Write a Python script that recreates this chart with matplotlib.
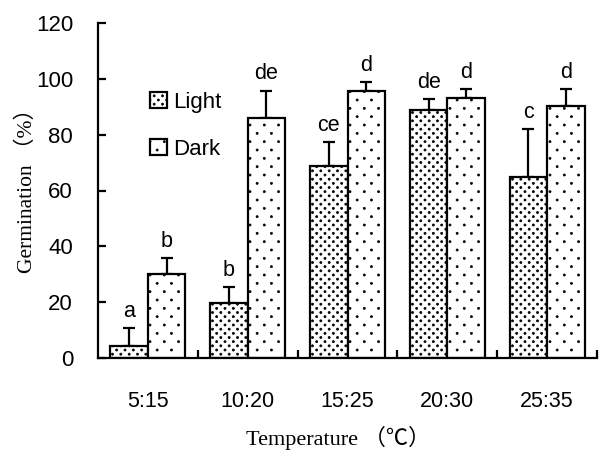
import matplotlib
matplotlib.use("Agg")
import matplotlib.pyplot as plt
import matplotlib.hatch as mhatch
from matplotlib.path import Path
import numpy as np

categories = ["5:15", "10:20", "15:25", "20:30", "25:35"]
light = [4.3, 19.6, 68.8, 88.8, 65.0]
light_err = [6.5, 5.7, 8.7, 3.9, 17.0]
dark = [30.0, 86.0, 95.7, 93.3, 90.2]
dark_err = [5.7, 9.8, 3.3, 3.0, 6.1]
light_letters = ["a", "b", "ce", "de", "c"]
dark_letters = ["b", "de", "d", "d", "d"]
yticks = [0, 20, 40, 60, 80, 100, 120]


class DotLattice(mhatch.HatchPatternBase):
    """Staggered dot texture: '.' sparse, '..' dense."""
    def __init__(self, hatch, density):
        n = hatch.count('.')
        self.rows = {0: 0, 1: 12, 2: 24}.get(n, 12 * n)
        self.cols = {1: 7, 2: 12}.get(n, 6 * n)
        self.radius = {1: 0.0105, 2: 0.0105}.get(n, 0.01)
        circ = Path.unit_circle()
        self.cv = circ.vertices
        self.cc = circ.codes
        if self.rows == 0:
            self.num_vertices = 0
            return
        nshapes = 0
        for r in range(self.rows + 1):
            nshapes += (self.cols + 1) if r % 2 == 0 else self.cols
        self.num_vertices = nshapes * len(self.cv)

    def set_vertices_and_codes(self, vertices, codes):
        k = len(self.cv)
        sv = self.cv * self.radius
        cursor = 0
        for r in range(self.rows + 1):
            y = r / self.rows
            if r % 2 == 0:
                xs = np.linspace(0, 1, self.cols + 1)
            else:
                xs = (np.arange(self.cols) + 0.5) / self.cols
            for xx in xs:
                vertices[cursor:cursor + k] = sv + (xx, y)
                codes[cursor:cursor + k] = self.cc
                cursor += k


mhatch._hatch_types = [t for t in mhatch._hatch_types if t is not mhatch.SmallFilledCircles] + [DotLattice]

plt.rcParams['hatch.linewidth'] = 0.5
fig = plt.figure(figsize=(6.02, 4.53), dpi=100)
ax = fig.add_axes([98/602, 1 - 358/453, 499/602, 335/453])

x = np.arange(len(categories)) + 0.5
w = 0.375
lw = 1.6
ax.bar(x - w/2, light, w, color="white", edgecolor="black", hatch="..", linewidth=lw, label="Light", zorder=2)
ax.bar(x + w/2, dark, w, color="white", edgecolor="black", hatch=".", linewidth=lw, label="Dark", zorder=2)
ax.errorbar(x - w/2, light, yerr=[np.zeros(5), light_err], fmt="none", ecolor="black", elinewidth=1.6, capsize=4.6, capthick=1.6, zorder=1)
ax.errorbar(x + w/2, dark, yerr=[np.zeros(5), dark_err], fmt="none", ecolor="black", elinewidth=1.6, capsize=4.6, capthick=1.6, zorder=1)

lfont = dict(family=["Liberation Sans", "DejaVu Sans"], fontsize=15.5)
for xi, v, e, t in zip(x - w/2, light, light_err, light_letters):
    ax.annotate(t, (xi, v + e), xytext=(0, 8), textcoords="offset points", ha="center", va="baseline", **lfont)
for xi, v, e, t in zip(x + w/2, dark, dark_err, dark_letters):
    ax.annotate(t, (xi, v + e), xytext=(0, 8), textcoords="offset points", ha="center", va="baseline", **lfont)

ax.set_xlim(0, 5)
ax.set_ylim(0, 120)
ax.set_yticks(yticks)
ax.set_xticks(x)
ax.set_xticklabels(categories)
ax.set_xticks(np.arange(1, 6), minor=True)
for s in ["top", "right"]:
    ax.spines[s].set_visible(False)
for s in ["left", "bottom"]:
    ax.spines[s].set_linewidth(1.6)
ax.tick_params(axis="y", direction="in", length=6, width=1.6, pad=18, labelsize=16)
ax.tick_params(axis="x", which="major", length=0, pad=24, labelsize=15.5)
ax.tick_params(axis="x", which="minor", direction="in", length=6, width=1.6)
for lab in ax.get_xticklabels() + ax.get_yticklabels():
    lab.set_family(["Liberation Sans", "DejaVu Sans"])

ax.set_ylabel("Germination （%）", family=["Liberation Serif", "Noto Sans CJK JP"], fontsize=15.5)
ax.yaxis.set_label_coords(-0.122, 0.516)
ax.set_xlabel("Temperature （℃）", family=["Liberation Serif", "Noto Sans CJK JP"], fontsize=16)
ax.xaxis.set_label_coords(0.482, -0.203)

ax.legend(loc="upper left", bbox_to_anchor=(0.082, 0.827), frameon=False, borderpad=0,
          handlelength=0.75, handleheight=0.75, handletextpad=0.3, labelspacing=1.15,
          prop=dict(family="Liberation Sans", size=16))

fig.savefig("out.png", dpi=100)
